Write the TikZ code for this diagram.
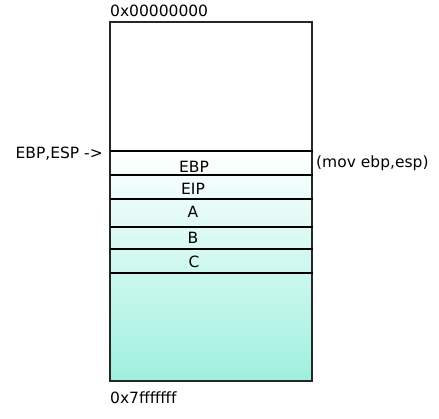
\documentclass[tikz,border=0pt]{standalone}
\usepackage{fontspec}
\setmainfont{DejaVu Sans}
\usepackage{tikz}

\definecolor{stackaqua}{RGB}{158,240,222}

\begin{document}
\begin{tikzpicture}[x=1pt, y=-1pt,
		txt/.style={font=\fontsize{15.5}{18}\selectfont, inner sep=0pt, text=black},
		sep/.style={line width=2.2pt, black}]
		\useasboundingbox (0,0) rectangle (439,418);
		
		%Memory
		\shade[top color=white, bottom color=stackaqua] (110,151) rectangle (312,381);
		\draw[line width=1.5pt, black!85] (110,22) rectangle (312,381);
		
		%Separators
		\foreach \y in {151,175,199,227,249,273}
			\draw[sep] (110,\y) -- (313,\y);
		
		%Addresses
		\node[txt, anchor=base west] (low) at (110,16) {0x00000000};
		\node[txt, anchor=base west] (high) at (110,403) {0x7fffffff};
		
		%Frame
		\node[txt, anchor=base] (ebp) at (194,172) {EBP};
		\node[txt, anchor=base] (eip) at (193,194) {EIP};
		\node[txt, anchor=base] (a) at (193,217) {A};
		\node[txt, anchor=base] (b) at (193,243) {B};
		\node[txt, anchor=base] (c) at (194,267) {C};
		
		%Pointers
		\node[txt, anchor=base east] (ptr) at (103,158) {EBP,ESP ->};
		\node[txt, anchor=base west] (mov) at (316,167) {(mov ebp,esp)};
	\end{tikzpicture}
\end{document}
